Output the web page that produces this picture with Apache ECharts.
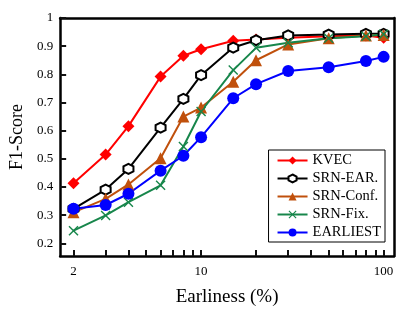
<!DOCTYPE html>
<html><head><meta charset="utf-8">
<script src="https://cdn.jsdelivr.net/npm/echarts@6/dist/echarts.min.js"></script>
<style>html,body{margin:0;padding:0;background:#fff}#c{width:415px;height:312px}</style>
</head><body><div id="c"></div>
<script>
var earliness = [2, 3, 4, 6, 8, 10, 15, 20, 30, 50, 80, 100];
var kvec     = [0.413, 0.515, 0.616, 0.792, 0.866, 0.889, 0.919, 0.924, 0.930, 0.935, 0.938, 0.930];
var srnEar   = [0.322, 0.391, 0.464, 0.611, 0.713, 0.797, 0.895, 0.921, 0.938, 0.941, 0.944, 0.944];
var srnConf  = [0.310, 0.358, 0.409, 0.502, 0.650, 0.682, 0.774, 0.850, 0.906, 0.928, 0.938, 0.940];
var srnFix   = [0.245, 0.299, 0.346, 0.406, 0.544, 0.668, 0.815, 0.894, 0.912, 0.928, 0.935, 0.942];
var earliest = [0.323, 0.336, 0.376, 0.458, 0.511, 0.577, 0.715, 0.765, 0.812, 0.825, 0.847, 0.862];
var xTickValues = [2,3,4,5,6,7,8,9,10,20,30,40,50,60,70,80,90,100];
var xLabelValues = [2, 10, 100];
var yTickValues = [0.2,0.3,0.4,0.5,0.6,0.7,0.8,0.9,1];

function pairs(ys){ return earliness.map(function(x,i){return [x, ys[i]];}); }
var hexPath = 'path://M0,-10 L8.66,-5 L8.66,5 L0,10 L-8.66,5 L-8.66,-5 Z';
var xPath = 'path://M-10,-8 L-8,-10 L0,-2 L8,-10 L10,-8 L2,0 L10,8 L8,10 L0,2 L-8,10 L-10,8 L-2,0 Z';
var font = '"Liberation Serif", "DejaVu Serif", serif';
var chart = echarts.init(document.getElementById('c'));
function ser(name, data, color, symbol, size, extra){
  var s = {name:name, type:'line', data:pairs(data), symbol:symbol, symbolSize:size,
    lineStyle:{color:color, width:2}, itemStyle:{color:color}, color:color, animation:false, z:2};
  if (extra) for (var k in extra) s[k]=extra[k];
  return s;
}
var frameLine = {show:true, onZero:false, lineStyle:{color:'#000', width:2.5}};
var tickStyle = {color:'#111111', width:2};
chart.setOption({
  animation:false,
  grid:{left:57, right:21, top:18, bottom:55, show:false},
  xAxis:[{type:'log', min:1.69, max:114, name:'Earliness (%)', nameLocation:'middle', nameGap:32,
    nameTextStyle:{fontFamily:font, fontSize:19, color:'#000'},
    axisLine:frameLine, splitLine:{show:false},
    axisTick:{show:true, inside:true, length:6, lineStyle:tickStyle, customValues:xTickValues},
    axisLabel:{fontFamily:font, fontSize:13, color:'#000', margin:9, customValues:xLabelValues}},
   {type:'log', min:1.69, max:114, position:'top', axisLine:frameLine, axisTick:{show:false}, axisLabel:{show:false}, splitLine:{show:false}}],
  yAxis:[{type:'value', min:0.155, max:1.0, name:'F1-Score', nameLocation:'middle', nameGap:34,
    nameTextStyle:{fontFamily:font, fontSize:18, color:'#000'},
    axisLine:frameLine, splitLine:{show:false},
    axisTick:{show:true, inside:true, length:6, lineStyle:tickStyle, customValues:yTickValues},
    axisLabel:{fontFamily:font, fontSize:13, color:'#000', margin:7, customValues:yTickValues,
      formatter:function(v){return String(Math.round(v*10)/10);}}},
   {type:'value', min:0.155, max:1.0, position:'right', axisLine:frameLine, axisTick:{show:false}, axisLabel:{show:false}, splitLine:{show:false}}],
  legend:{orient:'vertical', right:30, bottom:70, itemWidth:30, itemHeight:10, itemGap:3,
    backgroundColor:'#fff', borderColor:'#000', borderWidth:1, padding:[3,4,2,8], borderRadius:0,
    textStyle:{fontFamily:font, fontSize:14.5, color:'#000'},
    data:['KVEC','SRN-EAR.','SRN-Conf.','SRN-Fix.','EARLIEST']},
  series:[
    ser('KVEC', kvec, '#ff0000', 'diamond', 12),
    ser('SRN-EAR.', srnEar, '#000000', hexPath, 10, {itemStyle:{color:'#fff', borderColor:'#000', borderWidth:2}}),
    ser('SRN-Conf.', srnConf, '#c0500c', 'triangle', 12),
    ser('SRN-Fix.', srnFix, '#17864b', xPath, 10),
    ser('EARLIEST', earliest, '#0000ff', 'circle', 12)
  ]
});
</script></body></html>
